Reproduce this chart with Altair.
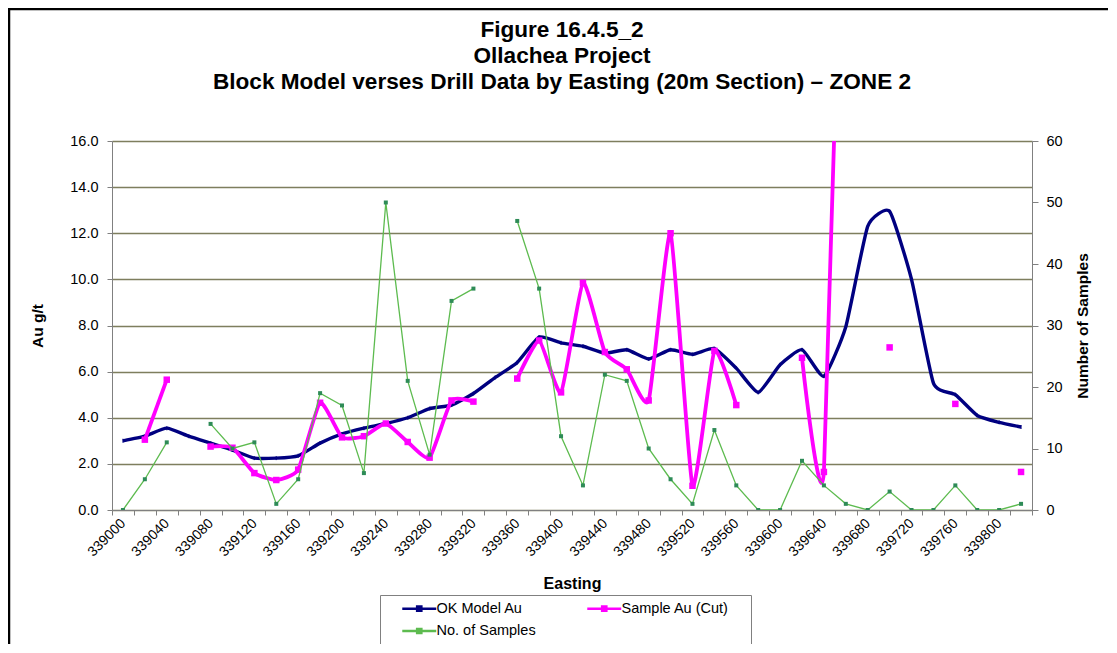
import altair as alt
import pandas as pd

# ---- data ----
eastings = [339000, 339020, 339040, 339060, 339080, 339100, 339120, 339140, 339160, 339180,
            339200, 339220, 339240, 339260, 339280, 339300, 339320, 339340, 339360, 339380,
            339400, 339420, 339440, 339460, 339480, 339500, 339520, 339540, 339560, 339580,
            339600, 339620, 339640, 339660, 339680, 339700, 339720, 339740, 339760, 339780,
            339800, 339820]

ok_model_au = [3.0, 3.2, 3.55, 3.2, 2.9, 2.6, 2.25, 2.25, 2.35, 2.9,
               3.3, 3.55, 3.75, 4.0, 4.4, 4.55, 5.05, 5.75, 6.4, 7.5,
               7.25, 7.1, 6.8, 6.95, 6.55, 6.95, 6.75, 7.0, 6.15, 5.1,
               6.3, 6.95, 5.8, 7.95, 12.3, 12.95, 10.0, 5.5, 5.0, 4.1,
               3.8, 3.6]

sample_au_cut = [None, 3.05, 5.65, None, 2.75, 2.7, 1.6, 1.3, 1.75, 4.65,
                 3.15, 3.2, 3.75, 2.95, 2.27, 4.75, 4.7, None, 5.7, 7.35,
                 5.1, 9.85, 6.85, 6.1, 4.75, 12.0, 1.05, 6.9, 4.55, None,
                 None, 6.6, 1.65, 35.0, None, 7.05, None, None, 4.6, None,
                 None, 1.65]

no_of_samples = [0, 5, 11, None, 14, 10, 11, 1, 5, 19,
                 17, 6, 50, 21, 9, 34, 36, None, 47, 36,
                 12, 4, 22, 21, 10, 5, 1, 13, 4, 0,
                 0, 8, 4, 1, 0, 3, 0, 0, 4, 0,
                 0, 1]

series_names = ["OK Model Au", "Sample Au (Cut)", "No. of Samples"]
series_colors = ["#000080", "#FF00FF", "#5DBB4F"]
legend_order = ["OK Model Au", "No. of Samples", "Sample Au (Cut)"]

title_lines = ["Figure 16.4.5_2", "Ollachea Project",
               "Block Model verses Drill Data by Easting (20m Section) \u2013 ZONE 2"]


def segments(values):
    seg, out, prev_none = 0, [], True
    for v in values:
        if v is None:
            prev_none = True
            out.append(None)
        else:
            if prev_none:
                seg += 1
            prev_none = False
            out.append(seg)
    return out


df = pd.DataFrame({
    "E": eastings,
    "ok": ok_model_au,
    "cut": sample_au_cut,
    "n": no_of_samples,
    "seg_ok": segments(ok_model_au),
    "seg_cut": segments(sample_au_cut),
    "seg_n": segments(no_of_samples),
})

FONT = "Liberation Sans"
W, H = 920, 369

x_enc = alt.X(
    "E:O",
    sort=eastings,
    bandPosition=0.5,
    scale=alt.Scale(type="band", paddingInner=0, paddingOuter=0),
    axis=alt.Axis(
        title="Easting",
        titleFont=FONT, titleFontSize=16, titleFontWeight="bold", titleColor="black",
        titleX=W / 2, titleY=78, titleBaseline="alphabetic",
        labelExpr="datum.value % 40 == 0 ? datum.label : ''",
        labelAngle=315, labelAlign="right", labelBaseline="middle",
        labelPadding=6, labelFont=FONT, labelFontSize=14, labelColor="black",
        labelOverlap=False, labelBound=False, labelFlush=False,
        tickBand="extent", tickSize=5, tickColor="#808080",
        domainColor="#808080", domainWidth=1, grid=False,
    ),
)

left_axis = alt.Axis(
    title="Au g/t", titleFont=FONT, titleFontSize=15.5, titleFontWeight="bold",
    titleColor="black", titleAngle=270, titleX=-75, titleY=H / 2,
    titleAlign="center", titleBaseline="middle",
    values=[0, 2, 4, 6, 8, 10, 12, 14, 16], format=".1f",
    labelFont=FONT, labelFontSize=14.5, labelColor="black", labelPadding=9,
    tickSize=5, tickColor="#808080", domainColor="#808080",
    grid=True, gridColor="#7E7E5E", gridWidth=1.5,
)

right_axis = alt.Axis(
    title="Number of Samples", orient="right", titleFont=FONT, titleFontSize=15.5,
    titleFontWeight="bold", titleColor="black", titleAngle=270, titleX=50,
    titleY=H / 2, titleAlign="center", titleBaseline="middle",
    values=[0, 10, 20, 30, 40, 50, 60],
    labelFont=FONT, labelFontSize=14.5, labelColor="black", labelPadding=8,
    tickSize=6, tickColor="#808080", domainColor="#808080", grid=False,
)

y_left_scale = alt.Scale(domain=[0, 16], nice=False, zero=True)
y_right_scale = alt.Scale(domain=[0, 60], nice=False, zero=True)

color_scale = alt.Scale(domain=series_names, range=series_colors)
legend = alt.Legend(
    title=None, orient="none", legendX=268, legendY=454, columns=2,
    values=legend_order,
    columnPadding=35, rowPadding=6.5, padding=6,
    fillColor="white", strokeColor="#808080",
    symbolType="M-2.83,0L2.83,0M-0.35,-0.35L0.35,-0.35L0.35,0.35L-0.35,0.35Z",
    symbolSize=144, symbolStrokeWidth=2.5, symbolOffset=25.75,
    labelFont=FONT, labelFontSize=14.5, labelColor="black", labelOffset=9.75,
    labelExpr="datum.label == 'Sample Au (Cut)' ? datum.label + '\u00a0\u00a0\u00a0\u00a0\u200b' : datum.label",
)
color_enc = alt.Color("series:N", scale=color_scale, legend=legend)

base = alt.Chart(df)

ok_line = base.transform_calculate(series="'OK Model Au'").mark_line(
    strokeWidth=3.4, interpolate="cardinal", tension=0.5, clip=True).encode(
    x=x_enc,
    y=alt.Y("ok:Q", scale=y_left_scale, axis=left_axis),
    detail="seg_ok:N",
    color=color_enc,
)
ok_pts = base.mark_point(shape="stroke", size=16, strokeWidth=1.5, color="#000080",
                         angle=90, clip=True).encode(
    x=x_enc, y=alt.Y("ok:Q", scale=y_left_scale, axis=left_axis),
)

cut_line = base.transform_filter("datum.cut != null").transform_calculate(
    series="'Sample Au (Cut)'").mark_line(
    strokeWidth=3.8, interpolate="cardinal", tension=0.5, clip=True).encode(
    x=x_enc,
    y=alt.Y("cut:Q", scale=y_left_scale, axis=left_axis),
    detail="seg_cut:N",
    color=color_enc,
)
cut_pts = base.transform_filter("datum.cut != null").mark_square(
    size=42, opacity=1, color="#FF00FF", clip=True).encode(
    x=x_enc, y=alt.Y("cut:Q", scale=y_left_scale, axis=left_axis),
)

left = alt.layer(ok_line, ok_pts, cut_line, cut_pts)

n_line = base.transform_filter("datum.n != null").transform_calculate(
    series="'No. of Samples'").mark_line(
    strokeWidth=1.3, clip=True).encode(
    x=x_enc,
    y=alt.Y("n:Q", scale=y_right_scale, axis=right_axis),
    detail="seg_n:N",
    color=color_enc,
)
n_pts = base.transform_filter("datum.n != null").mark_square(
    size=16, opacity=1, color="#2E8B57", clip=True).encode(
    x=x_enc, y=alt.Y("n:Q", scale=y_right_scale, axis=right_axis),
)

right = alt.layer(n_line, n_pts)

frame = alt.Chart(alt.Data(values=[{"f": 1}])).mark_rect(
    fillOpacity=0, stroke="black", strokeWidth=2.5, clip=False).encode(
    x=alt.value(-103), x2=alt.value(1030), y=alt.value(-132), y2=alt.value(540),
)

chart = alt.layer(frame, left, right).resolve_scale(y="independent").properties(
    width=W, height=H,
    autosize=alt.AutoSizeParams(type="none"),
    padding={"left": 104, "top": 133, "right": 76, "bottom": 134},
    title=alt.TitleParams(
        text=title_lines, font=FONT, fontSize=22.6, fontWeight="bold", color="black",
        anchor="middle", offset=-86, lineHeight=26, dx=-10,
    ),
).configure_view(
    fill="#FFFF99", stroke="#808080", strokeWidth=1,
).configure(background="white")

chart.save("out.html", embed_options={"renderer": "svg", "actions": False})
